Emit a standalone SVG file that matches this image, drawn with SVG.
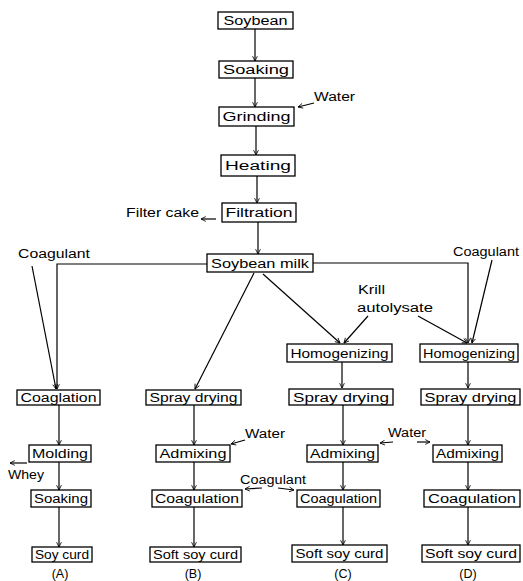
<svg xmlns="http://www.w3.org/2000/svg" width="523" height="581" viewBox="0 0 523 581">
<defs>
<marker id="ah" viewBox="0 0 10 10" refX="9" refY="5" markerWidth="6" markerHeight="6" markerUnits="userSpaceOnUse" orient="auto">
<path d="M1,1 L9,5 L1,9" fill="none" stroke="#000" stroke-width="1.4"/>
</marker>
<style>
rect{fill:#fff;stroke:#000;stroke-width:1.3}
text{font-family:"Liberation Sans",Arial,sans-serif;font-size:12.5px;fill:#000;text-anchor:middle;dominant-baseline:central}
.lbl{text-anchor:start}
.c path,.c line,.c polyline{fill:none;stroke:#000;stroke-width:1.2;marker-end:url(#ah)}
</style>
</defs>
<rect x="0" y="0" width="523" height="581" style="fill:#fff;stroke:none"/>
<g class="c" id="connectors">
<line x1="255" y1="29" x2="255" y2="61"/>
<line x1="255" y1="78" x2="255" y2="107"/>
<line x1="256" y1="126" x2="256" y2="155"/>
<line x1="257" y1="176" x2="257" y2="203"/>
<line x1="258" y1="222" x2="258" y2="254"/>
<line x1="314" y1="103" x2="298" y2="107"/>
<line x1="216" y1="219" x2="201" y2="219"/>
<polyline points="207,264 57,264 57,389"/>
<line x1="32" y1="266" x2="56" y2="389"/>
<line x1="254" y1="273" x2="195" y2="389"/>
<line x1="263" y1="274" x2="340" y2="343"/>
<line x1="368" y1="316" x2="344" y2="343"/>
<line x1="418" y1="316" x2="467" y2="343"/>
<polyline points="313,263 468,263 468,343"/>
<line x1="492" y1="260" x2="472" y2="343"/>
<line x1="59" y1="404" x2="59" y2="445"/>
<line x1="59" y1="462" x2="59" y2="490"/>
<line x1="27" y1="463" x2="10" y2="463"/>
<line x1="59" y1="507" x2="59" y2="547"/>
<line x1="194" y1="404" x2="194" y2="445"/>
<line x1="194" y1="462" x2="194" y2="490"/>
<line x1="194" y1="507" x2="194" y2="547"/>
<line x1="245" y1="440" x2="231" y2="444"/>
<line x1="262" y1="488" x2="245" y2="489"/>
<line x1="278" y1="488" x2="294" y2="490"/>
<line x1="342" y1="362" x2="342" y2="388"/>
<line x1="343" y1="404" x2="343" y2="445"/>
<line x1="343" y1="462" x2="343" y2="490"/>
<line x1="343" y1="507" x2="343" y2="545"/>
<line x1="393" y1="442" x2="380" y2="443"/>
<line x1="468" y1="362" x2="468" y2="388"/>
<line x1="468" y1="404" x2="468" y2="445"/>
<line x1="468" y1="462" x2="468" y2="490"/>
<line x1="468" y1="507" x2="468" y2="545"/>
<line x1="417" y1="442" x2="430" y2="442"/>
</g>
<g id="soybean"><rect x="218" y="12" width="75" height="17"/><text x="255.5" y="21" textLength="64" lengthAdjust="spacingAndGlyphs">Soybean</text></g>
<g id="soaking"><rect x="219" y="61" width="74" height="17"/><text x="256" y="70" textLength="66" lengthAdjust="spacingAndGlyphs">Soaking</text></g>
<g id="grinding"><rect x="219" y="107" width="75" height="19"/><text x="256.5" y="117" textLength="68" lengthAdjust="spacingAndGlyphs">Grinding</text></g>
<g id="heating"><rect x="221" y="155" width="74" height="21"/><text x="258" y="166" textLength="66" lengthAdjust="spacingAndGlyphs">Heating</text></g>
<g id="filtration"><rect x="222" y="203" width="74" height="19"/><text x="259" y="213" textLength="67" lengthAdjust="spacingAndGlyphs">Filtration</text></g>
<g id="water1"><text class="lbl" x="314" y="97" textLength="41" lengthAdjust="spacingAndGlyphs">Water</text></g>
<g id="filtercake"><text class="lbl" x="126" y="213" textLength="73" lengthAdjust="spacingAndGlyphs">Filter cake</text></g>
<g id="soybeanmilk"><rect x="207" y="254" width="106" height="18"/><text x="260" y="263.5" textLength="98" lengthAdjust="spacingAndGlyphs">Soybean milk</text></g>
<g id="coagulantA"><text class="lbl" x="18" y="254" textLength="72" lengthAdjust="spacingAndGlyphs">Coagulant</text></g>
<g id="coagulantD"><text class="lbl" x="453" y="252" textLength="66" lengthAdjust="spacingAndGlyphs">Coagulant</text></g>
<g id="krill"><text class="lbl" x="358" y="290" textLength="27" lengthAdjust="spacingAndGlyphs">Krill</text><text class="lbl" x="357" y="308" textLength="76" lengthAdjust="spacingAndGlyphs">autolysate</text></g>
<g id="homogC"><rect x="287" y="344" width="105" height="18"/><text x="339.5" y="353.5" textLength="98" lengthAdjust="spacingAndGlyphs">Homogenizing</text></g>
<g id="homogD"><rect x="420" y="344" width="98" height="18"/><text x="469" y="353.5" textLength="92" lengthAdjust="spacingAndGlyphs">Homogenizing</text></g>
<g id="coaglationA"><rect x="17" y="390" width="83" height="15"/><text x="58.5" y="398" textLength="76" lengthAdjust="spacingAndGlyphs">Coaglation</text></g>
<g id="sprayB"><rect x="146" y="390" width="95" height="15"/><text x="193.5" y="398" textLength="88" lengthAdjust="spacingAndGlyphs">Spray drying</text></g>
<g id="sprayC"><rect x="289" y="389" width="104" height="16"/><text x="341" y="397.5" textLength="96" lengthAdjust="spacingAndGlyphs">Spray drying</text></g>
<g id="sprayD"><rect x="421" y="389" width="99" height="16"/><text x="470.5" y="397.5" textLength="92" lengthAdjust="spacingAndGlyphs">Spray drying</text></g>
<g id="moldingA"><rect x="29" y="445" width="62" height="17"/><text x="60" y="454" textLength="56" lengthAdjust="spacingAndGlyphs">Molding</text></g>
<g id="wheyA"><text class="lbl" x="8" y="475" textLength="36" lengthAdjust="spacingAndGlyphs">Whey</text></g>
<g id="soakingA"><rect x="31" y="490" width="60" height="17"/><text x="61" y="499" textLength="54" lengthAdjust="spacingAndGlyphs">Soaking</text></g>
<g id="soycurdA"><rect x="32" y="547" width="60" height="15"/><text x="62" y="555" textLength="54" lengthAdjust="spacingAndGlyphs">Soy curd</text></g>
<g id="admixB"><rect x="156" y="445" width="74" height="17"/><text x="193" y="454" textLength="67" lengthAdjust="spacingAndGlyphs">Admixing</text></g>
<g id="waterB"><text class="lbl" x="245" y="434" textLength="40" lengthAdjust="spacingAndGlyphs">Water</text></g>
<g id="coagB"><rect x="152" y="490" width="90" height="17"/><text x="197" y="499" textLength="84" lengthAdjust="spacingAndGlyphs">Coagulation</text></g>
<g id="coagulantBC"><text class="lbl" x="240" y="480" textLength="66" lengthAdjust="spacingAndGlyphs">Coagulant</text></g>
<g id="softB"><rect x="150" y="547" width="91" height="15"/><text x="195.5" y="555" textLength="85" lengthAdjust="spacingAndGlyphs">Soft soy curd</text></g>
<g id="admixC"><rect x="307" y="445" width="71" height="17"/><text x="342.5" y="454" textLength="65" lengthAdjust="spacingAndGlyphs">Admixing</text></g>
<g id="waterCD"><text class="lbl" x="388" y="433" textLength="38" lengthAdjust="spacingAndGlyphs">Water</text></g>
<g id="coagC"><rect x="297" y="490" width="83" height="17"/><text x="338.5" y="499" textLength="77" lengthAdjust="spacingAndGlyphs">Coagulation</text></g>
<g id="softC"><rect x="292" y="545" width="95" height="17"/><text x="339.5" y="554" textLength="88" lengthAdjust="spacingAndGlyphs">Soft soy curd</text></g>
<g id="admixD"><rect x="433" y="445" width="69" height="17"/><text x="467.5" y="454" textLength="63" lengthAdjust="spacingAndGlyphs">Admixing</text></g>
<g id="coagD"><rect x="424" y="490" width="96" height="17"/><text x="472" y="499" textLength="88" lengthAdjust="spacingAndGlyphs">Coagulation</text></g>
<g id="softD"><rect x="422" y="545" width="98" height="17"/><text x="471" y="554" textLength="92" lengthAdjust="spacingAndGlyphs">Soft soy curd</text></g>
<g id="labels"><text x="60" y="574">(A)</text><text x="193" y="574">(B)</text><text x="343" y="574">(C)</text><text x="468" y="574">(D)</text></g>
</svg>
